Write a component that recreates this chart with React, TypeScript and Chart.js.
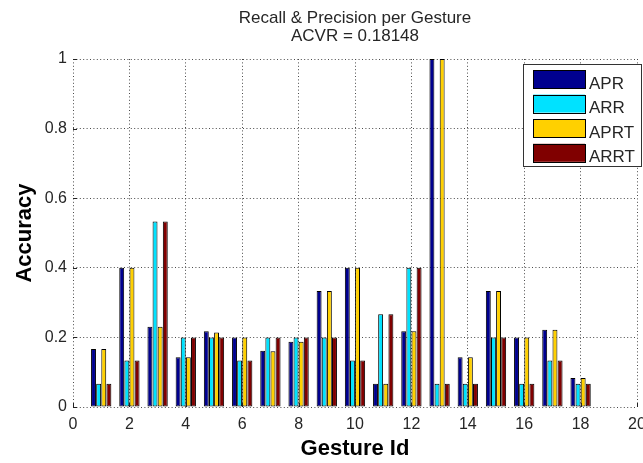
import { useEffect, useRef } from 'react';
import { Chart, registerables } from 'chart.js';

Chart.register(...registerables);

// Gesture ids on the x axis
const gestureIds = [1, 2, 3, 4, 5, 6, 7, 8, 9, 10, 11, 12, 13, 14, 15, 16, 17, 18];

// Per-gesture scores
const apr = [0.1667, 0.4, 0.2308, 0.1429, 0.2174, 0.2, 0.1613, 0.1875, 0.3333, 0.4, 0.0667, 0.2174, 1.0, 0.1429, 0.3333, 0.2, 0.2222, 0.0833];
const arr = [0.0667, 0.1333, 0.5333, 0.2, 0.2, 0.1333, 0.2, 0.2, 0.2, 0.1333, 0.2667, 0.4, 0.0667, 0.0667, 0.2, 0.0667, 0.1333, 0.0667];
const aprt = [0.1667, 0.4, 0.2308, 0.1429, 0.2143, 0.2, 0.16, 0.1875, 0.3333, 0.4, 0.0667, 0.2174, 1.0, 0.1429, 0.3333, 0.2, 0.2222, 0.0833];
const arrt = [0.0667, 0.1333, 0.5333, 0.2, 0.2, 0.1333, 0.2, 0.2, 0.2, 0.1333, 0.2667, 0.4, 0.0667, 0.0667, 0.2, 0.0667, 0.1333, 0.0667];

const seriesNames = ['APR', 'ARR', 'APRT', 'ARRT'];
const seriesValues = [apr, arr, aprt, arrt];
const seriesColors = ['#00008F', '#00E2FF', '#FFD000', '#800000'];

const titleLines = ['Recall & Precision per Gesture', 'ACVR = 0.18148'];
const xTitle = 'Gesture Id';
const yTitle = 'Accuracy';

const FONT = '"Liberation Sans", Arial, Helvetica, sans-serif';
const TEXT = '#262626';

// Title, inward tick marks and the boxed legend drawn on top of the plot
const decorPlugin = {
  id: 'decor',
  afterDraw(chart: any) {
    const { ctx, chartArea } = chart;
    const xs = chart.scales.x;
    const ys = chart.scales.y;
    ctx.save();

    // ticks pointing into the plot
    ctx.strokeStyle = '#222';
    ctx.lineWidth = 1;
    ctx.setLineDash([]);
    ctx.beginPath();
    for (let v = 0; v <= 1.0001; v += 0.2) {
      const y = Math.round(ys.getPixelForValue(v)) + 0.5;
      ctx.moveTo(chartArea.left, y);
      ctx.lineTo(chartArea.left + 4, y);
    }
    for (let v = 0; v <= 20; v += 2) {
      const x = Math.round(xs.getPixelForValue(v)) + 0.5;
      ctx.moveTo(x, chartArea.bottom);
      ctx.lineTo(x, chartArea.bottom - 4);
    }
    ctx.stroke();

    // title
    const cx = (chartArea.left + chartArea.right) / 2;
    ctx.fillStyle = TEXT;
    ctx.font = `17px ${FONT}`;
    ctx.textAlign = 'center';
    ctx.textBaseline = 'alphabetic';
    ctx.fillText(titleLines[0], cx, 23);
    ctx.fillText(titleLines[1], cx, 41);

    // legend
    const lx = chartArea.right - 114;
    const ly = chartArea.top + 5;
    const lw = 118;
    const lh = 102;
    ctx.fillStyle = '#ffffff';
    ctx.fillRect(lx + 0.5, ly + 0.5, lw, lh);
    ctx.strokeStyle = '#333';
    ctx.strokeRect(lx + 0.5, ly + 0.5, lw, lh);
    ctx.font = `17px ${FONT}`;
    ctx.textAlign = 'left';
    seriesNames.forEach((name, i) => {
      const top = ly + 6 + i * 24.6;
      ctx.fillStyle = seriesColors[i];
      ctx.fillRect(lx + 10, top, 52, 18);
      ctx.strokeStyle = '#000';
      ctx.strokeRect(lx + 10.5, Math.round(top) + 0.5, 52, 18);
      ctx.fillStyle = TEXT;
      ctx.fillText(name, lx + 66, top + 18.5);
    });

    ctx.restore();
  },
};

export default function App() {
  const canvasRef = useRef<HTMLCanvasElement | null>(null);

  useEffect(() => {
    const canvas = canvasRef.current;
    if (!canvas) return;

    const chart = new Chart(canvas, {
      type: 'bar',
      data: {
        labels: gestureIds,
        datasets: seriesNames.map((name, i) => ({
          label: name,
          data: seriesValues[i],
          backgroundColor: seriesColors[i],
          borderColor: '#000000',
          borderWidth: 1,
          borderSkipped: false,
          categoryPercentage: 0.727,
          barPercentage: 0.96,
        })),
      },
      options: {
        responsive: false,
        animation: false,
        layout: { padding: { top: 59, right: 6, left: 0, bottom: 0 } },
        plugins: {
          legend: { display: false },
          title: { display: false },
          tooltip: { enabled: false },
        },
        scales: {
          x: {
            type: 'linear',
            min: 0,
            max: 20,
            offset: false,
            grid: { offset: false, color: '#4a4a4a', lineWidth: 1, drawTicks: false },
            border: { display: false, dash: [1, 2.4] },
            ticks: {
              stepSize: 2,
              padding: 8,
              autoSkip: false,
              maxRotation: 0,
              color: TEXT,
              font: { family: FONT, size: 16 },
            },
            title: {
              display: true,
              text: xTitle,
              color: '#000',
              font: { family: FONT, size: 22, weight: 'bold' },
              padding: { top: 0, bottom: 1 },
            },
            afterFit: (s: any) => {
              s.height = 56;
              s.paddingLeft = 0;
              s.paddingRight = 0;
            },
          },
          y: {
            min: 0,
            max: 1,
            grid: { color: '#4a4a4a', lineWidth: 1, drawTicks: false },
            border: { display: false, dash: [1, 2.4] },
            ticks: {
              stepSize: 0.2,
              padding: 6,
              color: TEXT,
              font: { family: FONT, size: 16 },
              callback: (v: any) => String(Number(Number(v).toFixed(1))),
            },
            title: {
              display: true,
              text: yTitle,
              color: '#000',
              font: { family: FONT, size: 22, weight: 'bold' },
              padding: { top: 12, bottom: 0 },
            },
            afterFit: (s: any) => {
              s.width = 73;
              s.paddingTop = 0;
              s.paddingBottom = 0;
            },
          },
        },
      },
      plugins: [decorPlugin],
    });

    return () => chart.destroy();
  }, []);

  return (
    <div style={{ position: 'absolute', left: 0, top: 0, width: 643, height: 463, background: '#fff' }}>
      <canvas ref={canvasRef} width={643} height={463} style={{ display: 'block' }} />
    </div>
  );
}
